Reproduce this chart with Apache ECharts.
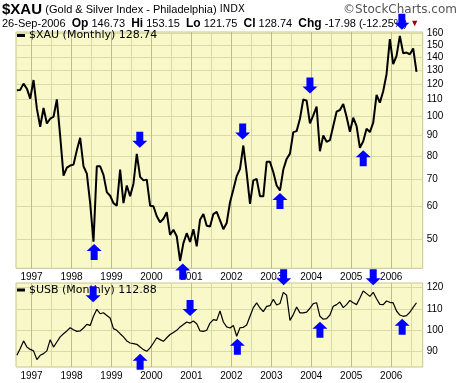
<!DOCTYPE html>
<html><head><meta charset="utf-8">
<script src="https://cdn.jsdelivr.net/npm/echarts@6/dist/echarts.min.js"></script>
<style>html,body{margin:0;padding:0;background:#fff}#c{width:460px;height:383px}</style>
</head><body><div id="c"></div>
<script>
// Monthly data, first point = Sep 1996, last = Sep 2006 (index 0..120)
const firstMonth = 'Sep 1996';
const years = ['1997','1998','1999','2000','2001','2002','2003','2004','2005','2006'];
const xau = [115.9,116.2,120.4,117.0,110.6,122.9,104.5,94.3,104.9,96.1,
98.7,99.8,110.1,89.4,71.5,74.8,75.7,76.1,82.6,88.6,
75.4,72.3,61.2,49.2,75.4,75.4,71.8,65.1,63.8,61.2,
60.3,74.0,61.2,67.6,63.6,68.3,80.9,71.0,69.6,69.9,
60.3,60.1,56.8,54.9,56.0,58.1,51.1,52.6,50.7,44.1,
48.8,51.6,49.1,52.8,47.9,55.7,57.5,53.8,53.6,57.5,
58.2,55.5,52.8,54.7,61.5,66.1,71.3,74.3,84.8,72.6,
60.9,69.6,70.2,63.6,63.6,77.3,77.3,72.9,67.6,65.7,
74.0,78.6,81.0,91.5,92.0,98.7,110.1,109.3,96.1,100.6,
105.7,82.1,89.8,86.6,87.4,94.7,102.7,103.7,107.3,99.8,
91.7,99.3,94.7,83.7,86.9,93.2,91.5,96.5,112.9,108.1,
115.3,127.0,154.9,134.4,140.9,157.8,143.0,143.6,142.2,146.9,
128.74];
const usb = [88.1,91.3,94.9,92.0,90.9,90.2,86.1,88.1,88.9,90.2,
95.5,92.0,94.4,96.8,98.3,99.6,101.1,100.2,99.4,99.6,
101.0,102.7,102.2,106.5,109.8,107.7,108.2,106.9,105.7,100.7,
99.9,98.3,96.8,94.9,93.9,93.6,93.3,92.0,90.8,90.0,
91.6,93.9,96.4,95.5,94.7,96.4,97.9,98.9,99.9,101.5,
102.6,103.8,103.3,104.3,103.0,99.6,99.4,99.9,103.3,104.9,
104.6,109.0,103.8,101.5,101.0,102.2,97.1,101.1,101.3,102.4,
106.5,110.6,112.8,110.4,108.7,111.2,111.5,114.5,111.8,112.5,
117.8,116.4,104.6,107.3,110.9,108.1,108.1,108.5,110.3,112.5,
112.9,106.5,105.1,105.4,107.1,111.2,112.0,113.2,110.6,112.0,
114.0,112.9,112.0,115.1,118.4,117.2,115.9,117.8,114.8,112.1,
112.0,113.7,113.1,112.8,109.0,107.1,106.5,106.8,108.4,110.7,
112.88];
const xauTicks = [50,60,70,80,90,100,110,120,130,140,150,160];
const usbTicks = [90,100,110,120];
// annotation arrows: [month index, value they point at]
const xauArrowsDown = [[36.9,80.9],[67.8,84.8],[88.0,110.1],[115.6,157.8]];
const xauArrowsUp = [[23.2,49.2],[49.8,44.1],[79.0,65.7],[104.0,83.7]];
const usbArrowsDown = [[22.9,109.8],[52.0,103.3],[80.1,117.8],[107.0,117.8]];
const usbArrowsUp = [[37.0,90.0],[66.2,97.1],[91.0,105.1],[115.7,106.5]];

const L = Math.log10;
const janOffset = 4; // months from first data point to Jan 1997
const yearPos = years.map((y, k) => janOffset + 0.4 + 12 * k);
const xGrid = [];
yearPos.forEach(p => { xGrid.push(p); xGrid.push(p + 6); });

const downPath = 'path://M4,0L11,0L11,9L15,9L7.5,16L0,9L4,9Z';
const upPath = 'path://M7.5,0L15,7L11,7L11,16L4,16L4,7L0,7Z';

const bg = '#F8F8C8';
const hLine = '#D9DBA7';
const yearLine = '#BBC084';
const halfLine = '#D9DBA7';
const axisFont = {fontFamily: 'Liberation Sans', fontSize: 10, color: '#000'};

function xAxisCfg(gi) {
  return {
    type: 'value', gridIndex: gi, min: -0.27, max: 121.86,
    axisLine: {show: false},
    axisTick: {show: false, customValues: xGrid},
    axisLabel: Object.assign({customValues: yearPos, margin: 4,
      formatter: v => years[Math.round((v - janOffset - 0.4) / 12)]}, axisFont),
    splitLine: {show: true, lineStyle: {color: [yearLine, halfLine], width: 1}}
  };
}
function arrows(list, path, off, tf) {
  return list.map(a => ({coord: [a[0], tf(a[1])], symbol: path, symbolOffset: [0, off]}));
}

const chart = echarts.init(document.getElementById('c'), null, {renderer: 'canvas'});
chart.setOption({
  animation: false,
  textStyle: {fontFamily: 'Liberation Sans'},
  grid: [
    {left: 16, top: 32, width: 406.7, height: 236.3, show: true, backgroundColor: bg,
     borderColor: '#C4C690', borderWidth: 1, containLabel: false, outerBoundsMode: 'none'},
    {left: 16, top: 283, width: 406.7, height: 84, show: true, backgroundColor: bg,
     borderColor: '#C4C690', borderWidth: 1, containLabel: false, outerBoundsMode: 'none'}
  ],
  xAxis: [xAxisCfg(0), xAxisCfg(1)],
  yAxis: [
    {type: 'value', gridIndex: 0, position: 'right', min: L(42.3), max: L(161.3),
     axisLine: {show: false},
     axisTick: {show: false, customValues: xauTicks.map(L)},
     axisLabel: Object.assign({customValues: xauTicks.map(L), margin: 4,
       formatter: v => String(Math.round(Math.pow(10, v)))}, axisFont),
     splitLine: {show: true, lineStyle: {color: hLine, width: 1}}},
    {type: 'value', gridIndex: 1, position: 'right', min: 82.6, max: 122.2,
     axisLine: {show: false},
     axisTick: {show: false, customValues: usbTicks},
     axisLabel: Object.assign({customValues: usbTicks, margin: 4}, axisFont),
     splitLine: {show: true, lineStyle: {color: hLine, width: 1}}}
  ],
  legend: [
    {data: ['$XAU'], left: 17, top: 30, padding: 0, icon: 'rect', itemWidth: 8, itemHeight: 3, itemGap: 4,
     formatter: n => n + ' (Monthly) ' + xau[xau.length - 1].toFixed(2),
     textStyle: {fontFamily: 'DejaVu Sans', fontSize: 11, color: '#000', padding: [0, 0, 0, -1]}},
    {data: ['$USB'], left: 17, top: 284.5, padding: 0, icon: 'rect', itemWidth: 8, itemHeight: 3, itemGap: 4,
     formatter: n => n + ' (Monthly) ' + usb[usb.length - 1].toFixed(2),
     textStyle: {fontFamily: 'DejaVu Sans', fontSize: 11, color: '#000', padding: [0, 0, 0, -1]}}
  ],
  series: [
    {type: 'line', name: '$XAU', xAxisIndex: 0, yAxisIndex: 0, symbol: 'none',
     data: xau.map((v, i) => [i, L(v)]),
     lineStyle: {color: '#000', width: 2}, itemStyle: {color: '#000'},
     markPoint: {silent: true, symbolSize: [15, 16], label: {show: false}, itemStyle: {color: '#0000FF'},
       data: arrows(xauArrowsDown, downPath, -14, L).concat(arrows(xauArrowsUp, upPath, 10.5, L))}},
    {type: 'line', name: '$USB', xAxisIndex: 1, yAxisIndex: 1, symbol: 'none',
     data: usb.map((v, i) => [i, v]),
     lineStyle: {color: '#000', width: 1.2}, itemStyle: {color: '#000'},
     markPoint: {silent: true, symbolSize: [15, 16], label: {show: false}, itemStyle: {color: '#0000FF'},
       data: arrows(usbArrowsDown, downPath, -15, v => v).concat(arrows(usbArrowsUp, upPath, 10.5, v => v))}}
  ],
  graphic: [
    {type: 'text', left: 2, top: 2, silent: true, style: {
      text: '{a|$XAU} {b|(Gold & Silver Index - Philadelphia)} {c|INDX}',
      rich: {a: {fontFamily: 'Liberation Sans', fontWeight: 'bold', fontSize: 15, fill: '#000'},
             b: {fontFamily: 'Liberation Sans', fontSize: 11, fill: '#000'},
             c: {fontFamily: 'DejaVu Sans', fontSize: 10, fill: '#000'}}}},
    {type: 'text', right: 3, top: 4, silent: true, style: {
      text: '©StockCharts.com', fontFamily: 'DejaVu Sans', fontSize: 12, fill: '#555'}},
    {type: 'text', left: 2, top: 18, silent: true, style: {
      text: '26-Sep-2006  {b|Op} 146.73  {b|Hi} 153.15  {b|Lo} 121.75  {b|Cl} 128.74  {b|Chg} -17.98 (-12.25%) {r|▼}',
      fontFamily: 'Liberation Sans', fontSize: 11, fill: '#000',
      rich: {b: {fontFamily: 'Liberation Sans', fontWeight: 'bold', fontSize: 12, fill: '#000'},
             r: {fontSize: 9, fill: '#990000'}}}}
  ]
});
</script></body></html>
